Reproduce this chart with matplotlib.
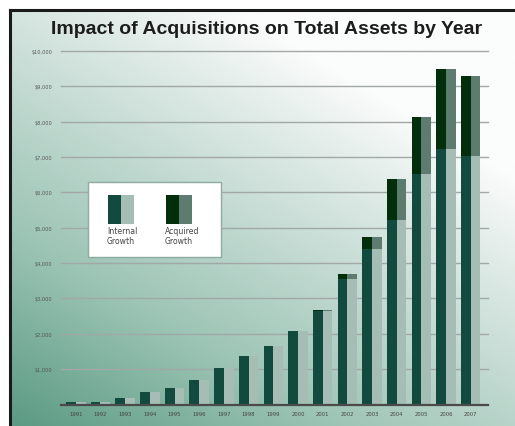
import numpy as np
import matplotlib
matplotlib.use("Agg")
import matplotlib.pyplot as plt
from matplotlib.colors import LinearSegmentedColormap
from matplotlib.patches import Rectangle

years = ["1991", "1992", "1993", "1994", "1995", "1996", "1997", "1998", "1999",
         "2000", "2001", "2002", "2003", "2004", "2005", "2006", "2007"]
internal = [75, 75, 185, 355, 470, 695, 1030, 1370, 1655,
            2070, 2640, 3550, 4400, 5220, 6520, 7230, 7030]
acquired = [0, 0, 0, 0, 0, 0, 0, 0, 0,
            10, 30, 140, 340, 1160, 1610, 2260, 2260]
yticks = [1000, 2000, 3000, 4000, 5000, 6000, 7000, 8000, 9000, 10000]
ytick_labels = ["$1,000", "$2,000", "$3,000", "$4,000", "$5,000",
                "$6,000", "$7,000", "$8,000", "$9,000", "$10,000"]

int_dark, int_light = "#124b3e", "#a6bdb5"
acq_dark, acq_light = "#022e0b", "#5e7b70"

W, H = 515, 427
fig = plt.figure(figsize=(W / 100, H / 100), dpi=100)
fig.patch.set_facecolor("white")

# gradient background inside the frame
bg = fig.add_axes([10 / W, 0, 1 - 10 / W, 1 - 11 / H], zorder=0)
u = np.linspace(0, 1, 300)[None, :]
v = np.linspace(1, 0, 300)[:, None]
t = np.clip(0.55 * u + 0.75 * v, 0, 1)
cmap = LinearSegmentedColormap.from_list(
    "bg", [(0, "#5b9a83"), (0.35, "#9cc4b5"), (0.65, "#c6dcd4"), (0.85, "#e3ede9"), (1, "#fbfcfc")])
bg.imshow(t, cmap=cmap, aspect="auto", extent=[0, 1, 0, 1], vmin=0, vmax=1)
bg.set_xlim(0, 1)
bg.set_ylim(0, 1)
bg.axis("off")
# dark frame on left and top
fig.add_artist(plt.Line2D([10 / W, 10 / W], [0, 1 - 10.5 / H], color="#1a1a1a", lw=2.2,
                          transform=fig.transFigure))
fig.add_artist(plt.Line2D([10 / W, 1], [1 - 11 / H, 1 - 11 / H], color="#1a1a1a", lw=2.2,
                          transform=fig.transFigure))

ax = fig.add_axes([61 / W, 1 - 405.5 / H, 427 / W, 353.5 / H], zorder=1)
ax.patch.set_alpha(0)
for s in ax.spines.values():
    s.set_visible(False)
ax.set_xlim(-0.6, 16.7)
ax.set_ylim(0, 10000)

for y in yticks:
    ax.axhline(y, color="#a2a7a7", lw=1.0, zorder=1, clip_on=False)
ax.axhline(0, color="#4a4a4a", lw=1.6, zorder=4, clip_on=False)

x = np.arange(len(years))
hw = 0.395
ax.bar(x - hw, internal, width=hw, align="edge", color=int_dark, zorder=2)
ax.bar(x, internal, width=hw, align="edge", color=int_light, zorder=2)
ax.bar(x - hw, acquired, width=hw, bottom=internal, align="edge", color=acq_dark, zorder=2)
ax.bar(x, acquired, width=hw, bottom=internal, align="edge", color=acq_light, zorder=2)

ax.set_yticks(yticks)
ax.set_yticklabels(ytick_labels, fontsize=3.6, color="#555555")
ax.set_xticks(x)
ax.set_xticklabels(years, fontsize=3.8, color="#444444")
ax.tick_params(axis="both", length=0)
ax.tick_params(axis="y", pad=6)
ax.tick_params(axis="x", pad=5)

fig.text(267 / W, 1 - 30 / H, "Impact of Acquisitions on Total Assets by Year",
         ha="center", va="center", fontsize=14, fontweight="bold",
         family="Liberation Sans", color="#1c1c1c")

# legend box
lg = fig.add_axes([0, 0, 1, 1], zorder=3)
lg.set_xlim(0, W)
lg.set_ylim(H, 0)
lg.axis("off")
lg.add_patch(Rectangle((88, 183), 133, 75, facecolor="white", edgecolor="#8eaaa1", lw=1.0))
lg.add_patch(Rectangle((108, 196), 13, 29, facecolor=int_dark, lw=0))
lg.add_patch(Rectangle((121, 196), 13, 29, facecolor=int_light, lw=0))
lg.add_patch(Rectangle((166, 196), 13, 29, facecolor=acq_dark, lw=0))
lg.add_patch(Rectangle((179, 196), 13, 29, facecolor=acq_light, lw=0))
lg.text(107, 227, "Internal\nGrowth", ha="left", va="top", fontsize=5.6,
        color="#444444", linespacing=1.15)
lg.text(165, 227, "Acquired\nGrowth", ha="left", va="top", fontsize=5.6,
        color="#444444", linespacing=1.15)

fig.savefig("out.png", dpi=100)
